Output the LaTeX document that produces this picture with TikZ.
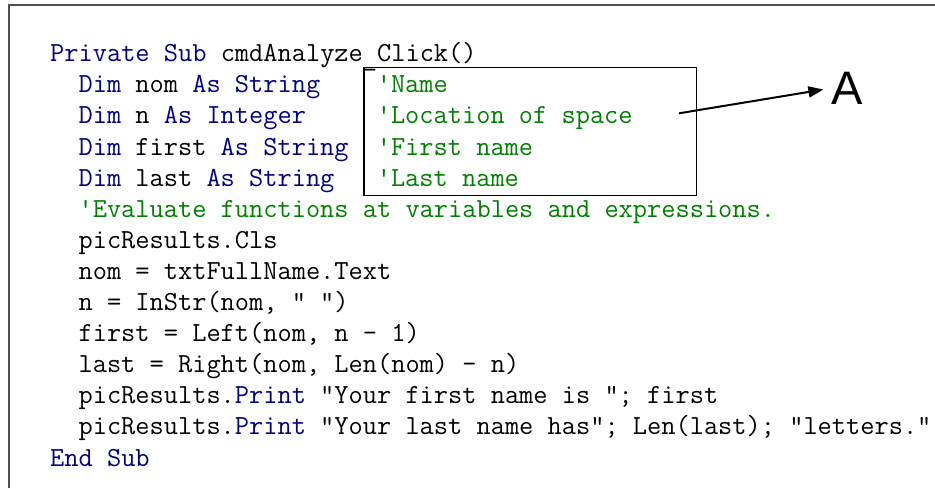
\documentclass[tikz,border=0pt]{standalone}
\usepackage{fontspec}
\setmonofont{Latin Modern Mono}
\newfontfamily\labelfont{Liberation Sans}
\usetikzlibrary{arrows.meta}
\definecolor{vbblue}{HTML}{000080}
\definecolor{vbgreen}{HTML}{008000}
\definecolor{framegray}{HTML}{505050}
\newcommand{\kw}[1]{\textcolor{vbblue}{#1}}
\tikzset{
  codeline/.style={anchor=base west, inner sep=0pt, font=\ttfamily\fontsize{27.6}{30}\selectfont, text=black},
  commentline/.style={codeline, text=vbgreen},
  commentbox/.style={draw=black, line width=1.4pt, anchor=north west, inner sep=0pt, minimum width=332.7pt, minimum height=128pt},
  pointer/.style={draw=black, line width=2pt, -{Triangle[length=15pt,width=11pt]}},
  biglabel/.style={anchor=base west, inner sep=0pt, font=\labelfont\fontsize{47}{50}\selectfont}
}
\begin{document}
\begin{tikzpicture}[x=1pt,y=-1pt]
\useasboundingbox (0,0) rectangle (935,488);
\fill[white] (0,0) rectangle (935,488);
\draw[framegray, line width=2pt] (9,488) -- (9,5) -- (935,5);
\def\cw{14.2}
\def\lh{31.1}
\def\by{61.7}
% code lines
\node[codeline] (l0)  at (50,{\by+0*\lh}) {\kw{Private Sub} cmdAnalyze\raisebox{-3.5pt}{\_}Click()};
\node[codeline] (l1)  at ({50+2*\cw},{\by+1*\lh}) {\kw{Dim} nom \kw{As String}};
\node[codeline] (l2)  at ({50+2*\cw},{\by+2*\lh}) {\kw{Dim} n \kw{As Integer}};
\node[codeline] (l3)  at ({50+2*\cw},{\by+3*\lh}) {\kw{Dim} first \kw{As String}};
\node[codeline] (l4)  at ({50+2*\cw},{\by+4*\lh}) {\kw{Dim} last \kw{As String}};
\node[commentline] (l5) at ({50+2*\cw},{\by+5*\lh}) {'Evaluate functions at variables and expressions.};
\node[codeline] (l6)  at ({50+2*\cw},{\by+6*\lh}) {picResults.Cls};
\node[codeline] (l7)  at ({50+2*\cw},{\by+7*\lh}) {nom = txtFullName.Text};
\node[codeline] (l8)  at ({50+2*\cw},{\by+8*\lh}) {n = InStr(nom, " ")};
\node[codeline] (l9)  at ({50+2*\cw},{\by+9*\lh}) {first = Left(nom, n - 1)};
\node[codeline] (l10) at ({50+2*\cw},{\by+10*\lh}) {last = Right(nom, Len(nom) - n)};
\node[codeline] (l11) at ({50+2*\cw},{\by+11*\lh}) {picResults.\kw{Print} "Your first name is "; first};
\node[codeline] (l12) at ({50+2*\cw},{\by+12*\lh}) {picResults.\kw{Print} "Your last name has"; Len(last); "letters."};
\node[codeline] (l13) at (50,{\by+13*\lh}) {\kw{End Sub}};
% comments
\node[commentline] (c1) at ({50+23*\cw},{\by+1*\lh}) {'Name};
\node[commentline] (c2) at ({50+23*\cw},{\by+2*\lh}) {'Location of space};
\node[commentline] (c3) at ({50+23*\cw},{\by+3*\lh}) {'First name};
\node[commentline] (c4) at ({50+23*\cw},{\by+4*\lh}) {'Last name};
% box around comments
\node[commentbox] (box) at (363.3,67) {};
% label and arrow
\node[biglabel] (A) at (831.7,104.3) {A};
\coordinate (s) at (679,113.3);
\draw[pointer, shorten >=8.4pt] (s) -- (A.west);
\end{tikzpicture}
\end{document}
